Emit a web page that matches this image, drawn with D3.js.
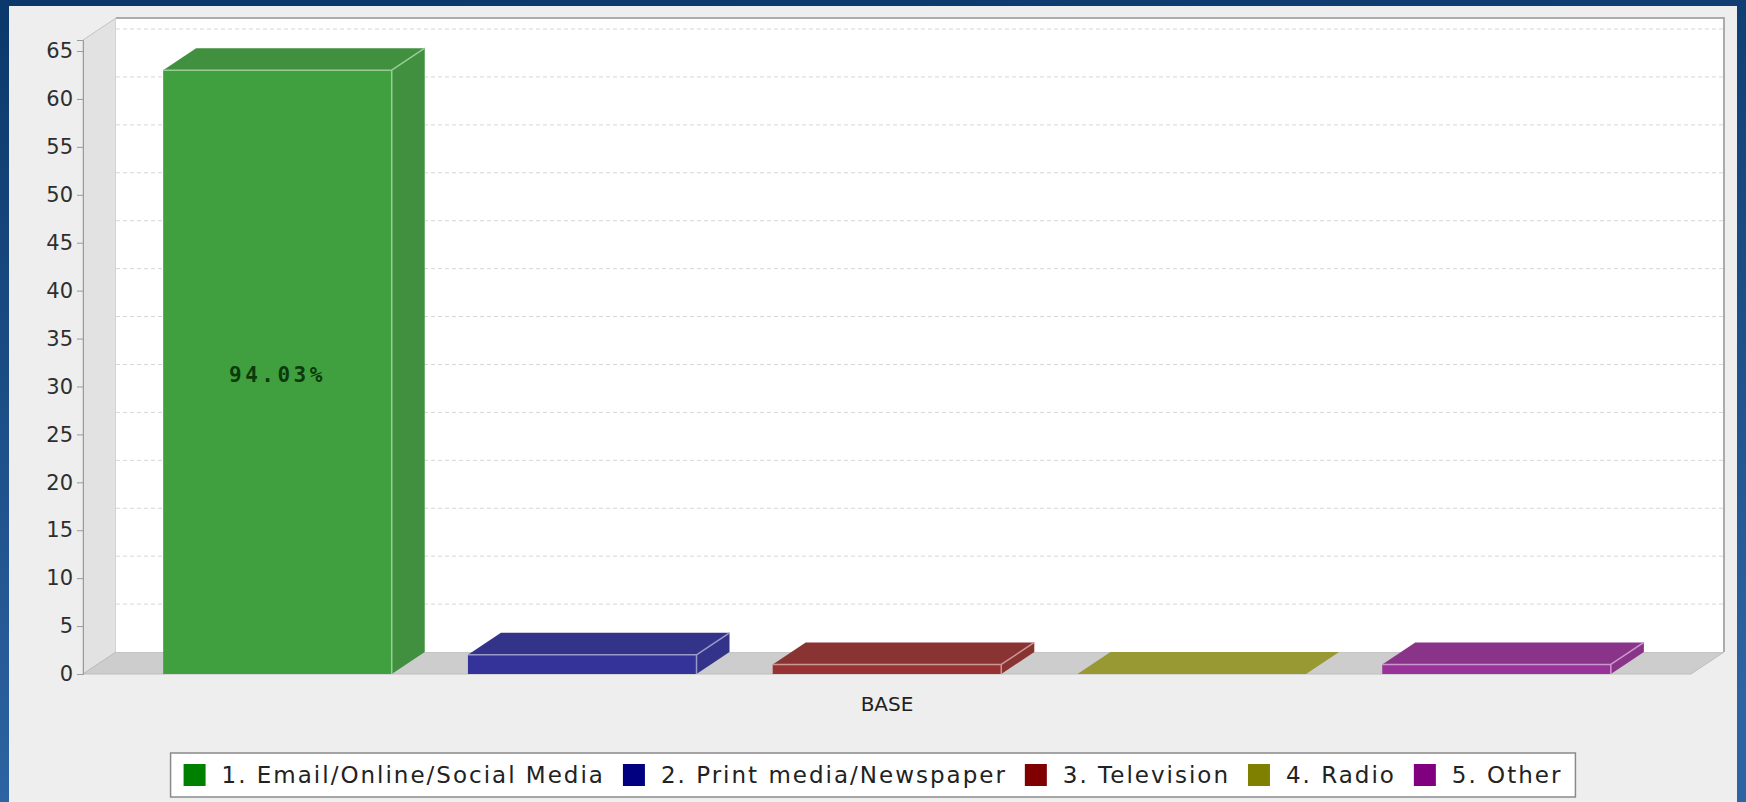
<!DOCTYPE html>
<html>
<head>
<meta charset="utf-8">
<script src="https://cdn.jsdelivr.net/npm/d3@7/dist/d3.min.js"></script>
<style>
  html, body { margin: 0; padding: 0; background: #0c3a6c; }
  svg { display: block; }
  text { font-family: "DejaVu Sans", "Noto Sans", sans-serif; }
</style>
</head>
<body>
<svg id="chart" width="1746" height="802"></svg>
<script>
// Chart data
const categories = ["BASE"];
const seriesNames = [
  "1. Email/Online/Social Media",
  "2. Print media/Newspaper",
  "3. Television",
  "4. Radio",
  "5. Other"
];
const seriesValues = [63, 2, 1, 0, 1];
const seriesColors = ["#008000", "#000080", "#800000", "#808000", "#800080"];
const yTicks = [0, 5, 10, 15, 20, 25, 30, 35, 40, 45, 50, 55, 60, 65];

const W = 1746, H = 802;
const svg = d3.select("#chart");
const defs = svg.append("defs");

// Outer frame gradient
const bg = defs.append("linearGradient").attr("id", "frame")
  .attr("x1", 0).attr("y1", 0).attr("x2", 0.15).attr("y2", 1);
bg.append("stop").attr("offset", 0).attr("stop-color", "#0b386a");
bg.append("stop").attr("offset", 1).attr("stop-color", "#2d64a3");
svg.append("rect").attr("width", W).attr("height", H).attr("fill", "url(#frame)");

// Chart panel
svg.append("rect").attr("x", 9).attr("y", 6).attr("width", 1728).attr("height", H - 6)
  .attr("fill", "#eeeeee");

// 3D geometry
const dx = 33, dy = -22;
const plotLeft = 83, plotRight = 1691, plotBottom = 674, plotTop = 40;

const y = d3.scaleLinear().domain([0, d3.max(seriesValues) * 1.05]).range([plotBottom, plotTop]);
const xCat = d3.scaleBand().domain(categories).range([plotLeft, plotRight]);
const x = d3.scaleBand().domain(seriesNames).range([plotLeft, plotRight])
  .paddingInner(0.25).paddingOuter(0.263);

const poly = pts => "M" + pts.map(p => p.join(",")).join("L") + "Z";

// Left wall
svg.append("path")
  .attr("d", poly([[plotLeft, plotBottom], [plotLeft, plotTop], [plotLeft + dx, plotTop + dy], [plotLeft + dx, plotBottom + dy]]))
  .attr("fill", "#e2e2e2").attr("stroke", "#c4c4c4").attr("stroke-width", 1);

// Floor
svg.append("path")
  .attr("d", poly([[plotLeft, plotBottom], [plotRight, plotBottom], [plotRight + dx, plotBottom + dy], [plotLeft + dx, plotBottom + dy]]))
  .attr("fill", "#cdcdcd").attr("stroke", "#bdbdbd").attr("stroke-width", 1);

// Back wall
svg.append("rect")
  .attr("x", plotLeft + dx).attr("y", plotTop + dy)
  .attr("width", plotRight - plotLeft).attr("height", plotBottom - plotTop)
  .attr("fill", "#ffffff");
svg.append("path")
  .attr("d", `M${plotLeft + dx},${plotTop + dy}L${plotRight + dx},${plotTop + dy}L${plotRight + dx},${plotBottom + dy}`)
  .attr("fill", "none").attr("stroke", "#ababab").attr("stroke-width", 2);

// Grid lines on back wall
svg.append("g").selectAll("line").data(yTicks.filter(t => t > 0)).join("line")
  .attr("x1", plotLeft + dx).attr("x2", plotRight + dx)
  .attr("y1", d => y(d) + dy).attr("y2", d => y(d) + dy)
  .attr("stroke", "#d6d6d6").attr("stroke-width", 1).attr("stroke-dasharray", "4,3");

// Value axis
const yAxis = d3.axisLeft(y).tickValues(yTicks).tickSize(6).tickPadding(4).tickFormat(d3.format("d"));
const gy = svg.append("g").attr("transform", `translate(${plotLeft},0)`).call(yAxis);
gy.select(".domain").attr("stroke", "#9a9a9a");
gy.selectAll(".tick line").attr("stroke", "#9a9a9a");
gy.selectAll(".tick text").attr("fill", "#2e2e2e").style("font-size", "21px")
  .style("font-family", "'DejaVu Sans', sans-serif");

// Bars
const total = d3.sum(seriesValues);
const bars = svg.append("g");
seriesNames.forEach((name, i) => {
  const v = seriesValues[i];
  const c = d3.color(seriesColors[i]);
  const over = col => d3.interpolateRgb("#ffffff", col)(i === 0 ? 0.75 : 0.8);
  const front = over(c);
  const dark = over(c.darker(0.5));
  const edge = d3.interpolateRgb(c, "#ffffff")(0.6);
  const x0 = x(name), x1 = x0 + x.bandwidth();
  const yt = y(v), yb = y(0);
  const g = bars.append("g");
  if (v > 0) {
    g.append("path").attr("d", poly([[x1, yb], [x1, yt], [x1 + dx, yt + dy], [x1 + dx, yb + dy]]))
      .attr("fill", dark);
  }
  g.append("path").attr("d", poly([[x0, yt], [x1, yt], [x1 + dx, yt + dy], [x0 + dx, yt + dy]]))
    .attr("fill", v > 0 ? dark : front);
  if (v > 0) {
    g.append("rect").attr("x", x0).attr("y", yt).attr("width", x1 - x0).attr("height", yb - yt)
      .attr("fill", front);
    g.append("path")
      .attr("d", `M${x0},${yt}L${x1},${yt}L${x1},${yb}M${x1},${yt}L${x1 + dx},${yt + dy}`)
      .attr("fill", "none").attr("stroke", edge).attr("stroke-width", 1.5);
  }
});

// Value label on the main bar
const iMax = seriesValues.indexOf(d3.max(seriesValues));
svg.append("text")
  .attr("x", x(seriesNames[iMax]) + x.bandwidth() / 2)
  .attr("y", (y(seriesValues[iMax]) + y(0)) / 2 + 3)
  .attr("text-anchor", "middle").attr("dominant-baseline", "central")
  .style("font-family", "'DejaVu Sans Mono', 'Liberation Mono', monospace")
  .style("font-weight", "bold").style("font-size", "21px").style("letter-spacing", "3.5px")
  .attr("fill", "#0b3a0b")
  .text(d3.format(".2f")(seriesValues[iMax] / total * 100) + "%");

// Category label
svg.append("text")
  .attr("x", xCat(categories[0]) + xCat.bandwidth() / 2)
  .attr("y", 704).attr("text-anchor", "middle").attr("dominant-baseline", "central")
  .style("font-size", "20px").attr("fill", "#222222")
  .text(categories[0]);

// Legend
const legend = svg.append("g");
const box = legend.append("rect").attr("fill", "#ffffff").attr("stroke", "#8a8a8a").attr("stroke-width", 1.5);
const sq = 22, gapText = 16, gapItem = 18, padX = 13;
let cx = 0;
const items = legend.append("g");
seriesNames.forEach((name, i) => {
  const it = items.append("g").attr("transform", `translate(${cx},0)`);
  it.append("rect").attr("x", 0).attr("y", -sq / 2).attr("width", sq).attr("height", sq)
    .attr("fill", seriesColors[i]);
  const t = it.append("text").attr("x", sq + gapText).attr("y", 0)
    .attr("dominant-baseline", "central").style("font-size", "23px")
    .style("letter-spacing", "2px").attr("fill", "#222222")
    .text(name);
  cx += sq + gapText + t.node().getComputedTextLength() + gapItem;
});
const legW = cx - gapItem + 2 * padX;
const legCx = 873, legCy = 775;
items.attr("transform", `translate(${legCx - legW / 2 + padX},${legCy})`);
box.attr("x", legCx - legW / 2).attr("y", legCy - 22).attr("width", legW).attr("height", 44);
</script>
</body>
</html>
